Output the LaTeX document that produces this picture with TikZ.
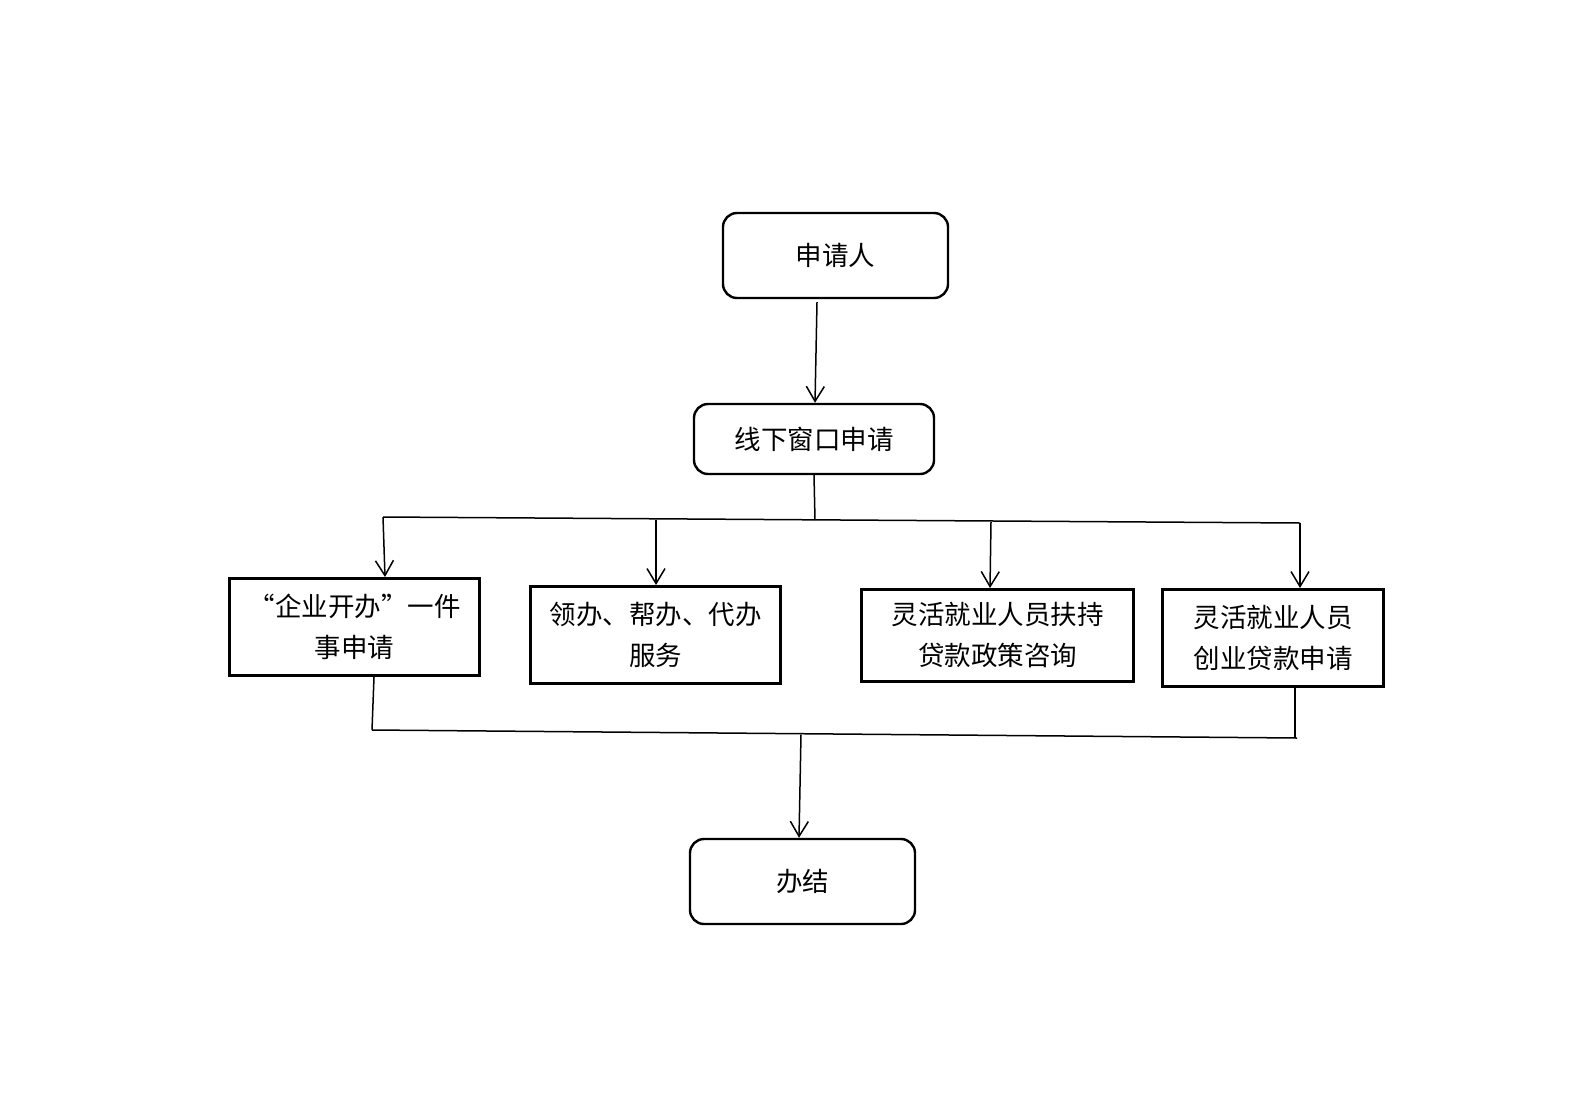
\documentclass[tikz,border=0pt]{standalone}
\usepackage{fontspec}
\newfontfamily\cjk{Noto Sans CJK SC}
\usetikzlibrary{arrows.meta}
\begin{document}
\begin{tikzpicture}[x=1pt,y=-1pt,
  txt/.style={font=\cjk\fontsize{26.5}{41}\selectfont, align=center, inner sep=0pt, text=black},
  rbox/.style={txt, draw, line width=2.4pt, rounded corners=14pt},
  sbox/.style={txt, draw, line width=3pt},
  conn/.style={line width=1.5pt},
  arr/.style={conn, -{Straight Barb[length=15pt,width=18pt,line width=1.5pt]}}]
\useasboundingbox[fill=white] (0,0) rectangle (1587,1095);
\node[rbox, minimum width=225pt, minimum height=85pt] (A) at (835.5,255.5) {申请人};
\node[rbox, minimum width=240pt, minimum height=70pt] (B) at (814,439) {线下窗口申请};
\node[sbox, minimum width=250pt, minimum height=97pt] (C1) at (354.5,627) {“企业开办”一件\\事申请};
\node[sbox, minimum width=250pt, minimum height=97pt] (C2) at (655.5,635) {领办、帮办、代办\\服务};
\node[sbox, minimum width=272pt, minimum height=92pt] (C3) at (997.5,635.5) {灵活就业人员扶持\\贷款政策咨询};
\node[sbox, minimum width=221pt, minimum height=97pt] (C4) at (1273,638) {灵活就业人员\\创业贷款申请};
\node[rbox, minimum width=225pt, minimum height=85pt] (D) at (802.5,881.5) {办结};
% top
\draw[arr] ([xshift=-18.5pt,yshift=-3pt]A.south) -- ([xshift=1pt]B.north);
\coordinate (jn) at (815,520);
\coordinate (bl) at (383,517);
\coordinate (br) at (1300,523);
\coordinate (t2) at (656,519.5);
\coordinate (t3) at (991,522);
\draw[conn] (B.south) -- (jn);
\draw[conn] (bl) -- (br);
\draw[arr] (bl) -- ([xshift=30.5pt]C1.north);
\draw[arr] (t2) -- (t2 |- C2.north);
\draw[arr] (t3) -- ([xshift=-7.5pt]C3.north);
\draw[arr] (br) -- (br |- C4.north);
% bottom
\coordinate (ql) at (372,730);
\coordinate (qr) at (1297,738);
\coordinate (jm) at (801,734.5);
\draw[conn] ([xshift=19.5pt]C1.south) -- (ql);
\draw[conn] ([xshift=22pt]C4.south) -- ([xshift=22pt]C4.south |- qr);
\draw[conn] (ql) -- (qr);
\draw[arr] (jm) -- ([xshift=-3.5pt]D.north);
\end{tikzpicture}
\end{document}
